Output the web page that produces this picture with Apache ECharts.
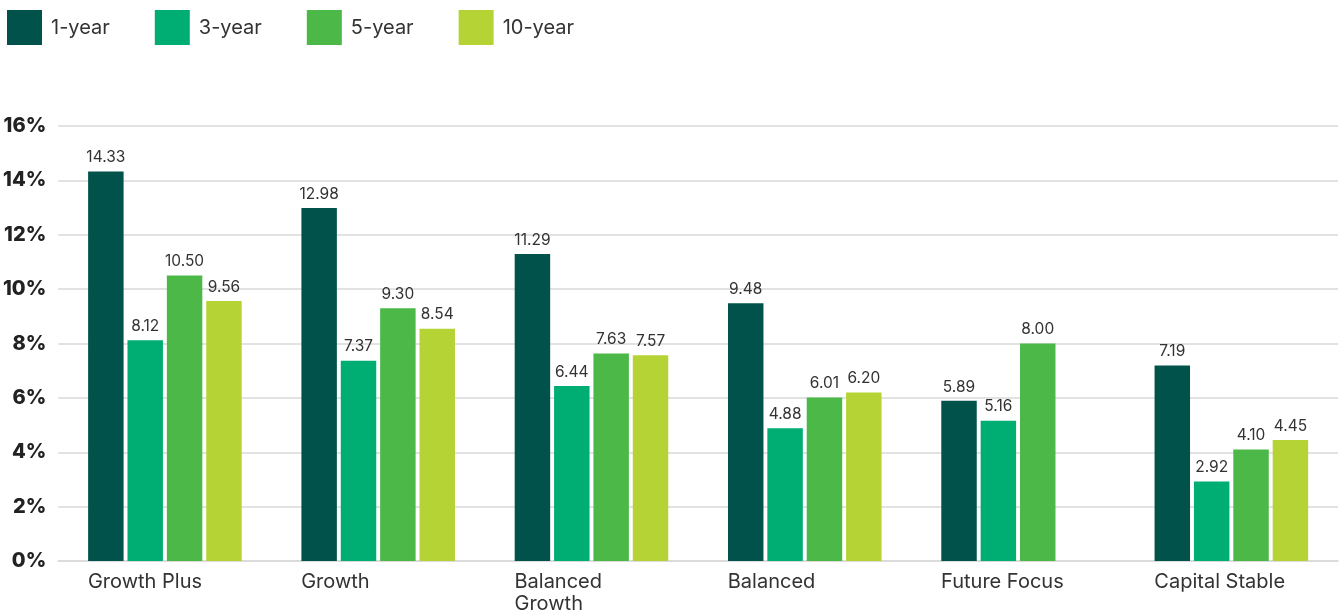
<!DOCTYPE html>
<html>
<head>
<meta charset="utf-8">
<script src="https://cdn.jsdelivr.net/npm/echarts@6/dist/echarts.min.js"></script>
<style>
  html, body { margin: 0; padding: 0; background: #fff; }
  #chart { width: 1343px; height: 615px; }
</style>
</head>
<body>
<div id="chart"></div>
<script>
// fund names (x axis)
const categories = ['Growth Plus', 'Growth', 'Balanced\nGrowth', 'Balanced', 'Future Focus', 'Capital Stable']
const seriesNames = ['1-year', '3-year', '5-year', '10-year']
const colors = ['#00524a', '#00ae73', '#4cb848', '#b5d334']

// annualised returns, %
const oneYear = [14.33, 12.98, 11.29, 9.48, 5.89, 7.19]
const threeYear = [8.12, 7.37, 6.44, 4.88, 5.16, 2.92]
const fiveYear = [10.50, 9.30, 7.63, 6.01, 8.00, 4.10]
const tenYear = [9.56, 8.54, 7.57, 6.20, null, 4.45]

const yTicks = { min: 0, max: 16, interval: 2 }

const font = 'Inter, "Noto Sans", sans-serif'
const values = [oneYear, threeYear, fiveYear, tenYear]

const chart = echarts.init(document.getElementById('chart'))

chart.setOption({
  animation: false,
  textStyle: { fontFamily: font },
  legend: {
    left: 2,
    top: 5,
    itemWidth: 35,
    itemHeight: 35,
    itemGap: 45,
    icon: 'rect',
    textStyle: { fontSize: 20, color: '#333', padding: [0, 0, 0, 4] },
    data: seriesNames
  },
  grid: { left: 58, right: 5, top: 126, bottom: 53 },
  xAxis: {
    type: 'category',
    data: categories,
    axisLine: { show: true, lineStyle: { color: '#d9d9d9', width: 1.5 } },
    axisTick: { show: false },
    axisLabel: {
      interval: 0,
      margin: 10,
      color: '#333',
      fontSize: 20,
      lineHeight: 22,
      formatter: v => v.split('\n').map(s => '{a|' + s + '}').join('\n'),
      rich: { a: { width: 154, align: 'left', fontSize: 20, lineHeight: 22, color: '#333', fontFamily: font } }
    }
  },
  yAxis: {
    type: 'value',
    ...yTicks,
    axisLine: { show: false },
    axisTick: { show: false },
    splitLine: { lineStyle: { color: '#d9d9d9', width: 1.5 } },
    axisLabel: {
      margin: 12,
      color: '#222',
      fontSize: 20,
      fontWeight: 800,
      formatter: '{value}%'
    }
  },
  series: seriesNames.map((name, i) => ({
    name,
    type: 'bar',
    data: values[i],
    barGap: '11%',
    barCategoryGap: '28%',
    itemStyle: { color: colors[i] },
    label: {
      show: true,
      position: 'top',
      distance: 6,
      color: '#333',
      fontSize: 15.5,
      formatter: p => p.value == null ? '' : p.value.toFixed(2)
    }
  }))
})
</script>
</body>
</html>
